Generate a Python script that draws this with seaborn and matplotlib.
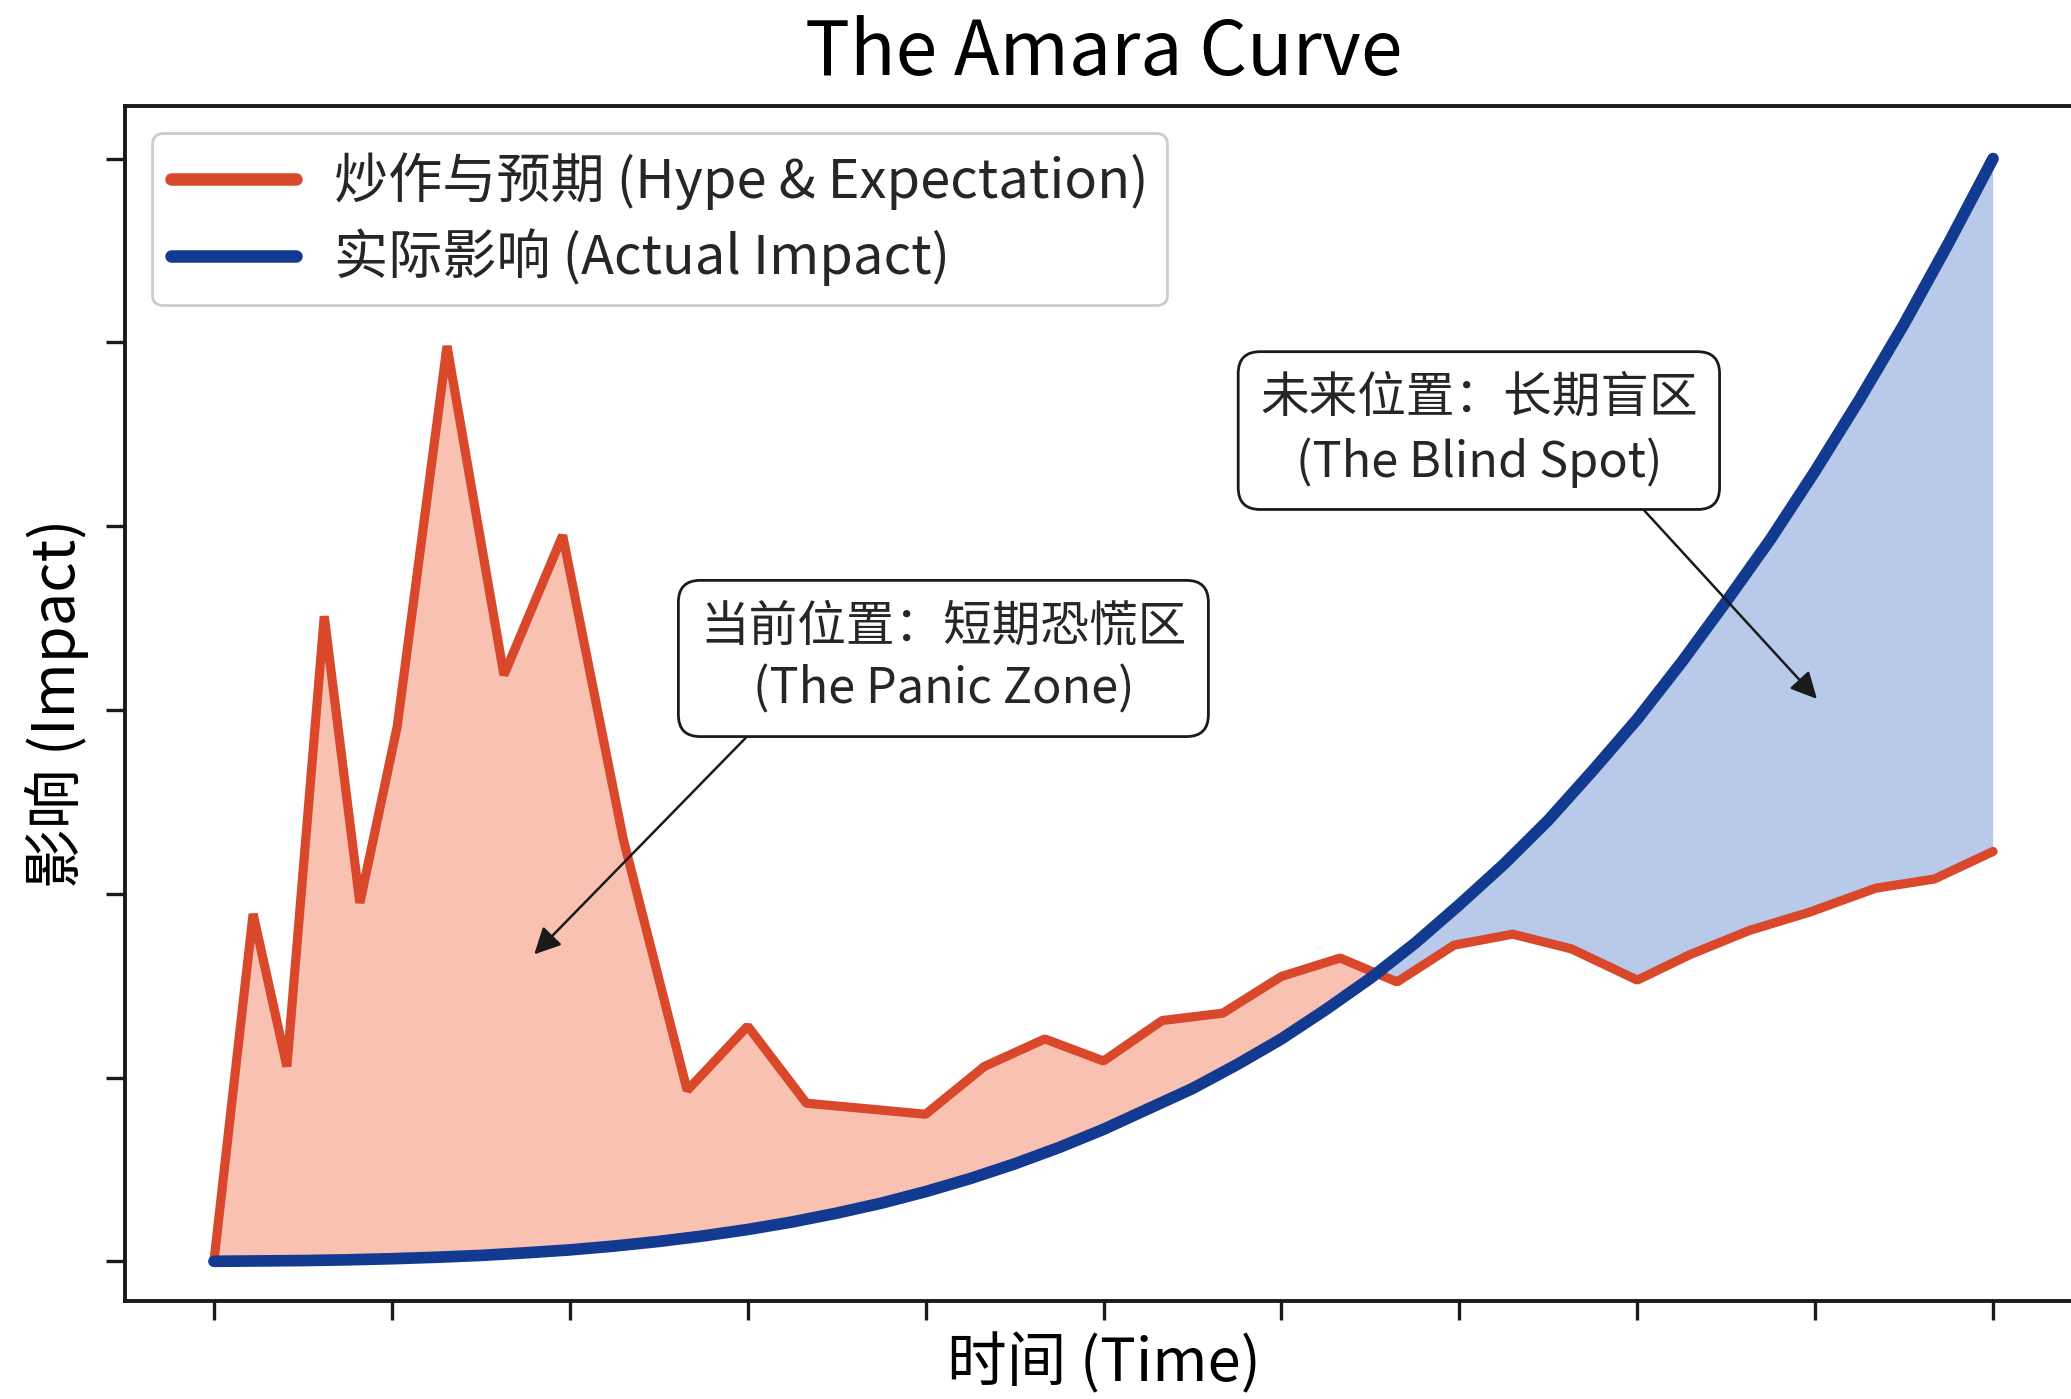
import matplotlib
matplotlib.use("Agg")
import matplotlib.pyplot as plt
import seaborn as sns
import numpy as np
import pandas as pd

# ---------------- data ----------------
# Hype & expectation: vertices of the jagged red line
time_x = [0.0, 0.22, 0.41, 0.62, 0.82, 1.03, 1.31, 1.63, 1.96, 2.30, 2.66,
          3.00, 3.33, 3.67, 4.00, 4.33, 4.67, 5.00, 5.33, 5.67, 6.00, 6.33,
          6.65, 6.97, 7.30, 7.63, 8.00, 8.30, 8.63, 8.97, 9.34, 9.67, 10.0]
hype = [0.00, 1.89, 1.06, 3.51, 1.95, 2.91, 4.98, 3.19, 3.95, 2.30, 0.93,
        1.28, 0.86, 0.83, 0.80, 1.06, 1.21, 1.09, 1.31, 1.35, 1.55, 1.65,
        1.52, 1.72, 1.78, 1.70, 1.53, 1.67, 1.80, 1.90, 2.03, 2.08, 2.23]
# Actual impact read at the same time points (boundary of the shaded areas)
actual = [0.00, 0.00, 0.00, 0.007, 0.012, 0.015, 0.024, 0.038, 0.060, 0.087, 0.127,
          0.173, 0.23, 0.30, 0.38, 0.47, 0.59, 0.72, 0.86, 1.03, 1.21, 1.42,
          1.65, 1.91, 2.21, 2.54, 2.95, 3.32, 3.76, 4.26, 4.83, 5.40, 6.00]
# Actual impact read on a finer time grid (the smooth blue line)
curve_x = [0.0, 0.25, 0.5, 0.75, 1.0, 1.25, 1.5, 1.75, 2.0, 2.25, 2.5, 2.75,
           3.0, 3.25, 3.5, 3.75, 4.0, 4.25, 4.5, 4.75, 5.0, 5.25, 5.5, 5.75,
           6.0, 6.25, 6.5, 6.75, 7.0, 7.25, 7.5, 7.75, 8.0, 8.25, 8.5, 8.75,
           9.0, 9.25, 9.5, 9.75, 10.0]
curve_y = [0.0, 0.002, 0.004, 0.008, 0.014, 0.022, 0.032, 0.046, 0.062, 0.083,
           0.108, 0.138, 0.173, 0.214, 0.262, 0.316, 0.379, 0.450, 0.530, 0.619,
           0.718, 0.829, 0.94, 1.07, 1.21, 1.37, 1.54, 1.73, 1.94, 2.16,
           2.40, 2.67, 2.95, 3.26, 3.59, 3.93, 4.30, 4.69, 5.10, 5.54, 6.00]
x_ticks = list(range(0, 11))
y_ticks = list(range(0, 7))

title = "The Amara Curve"
xlabel = "时间 (Time)"
ylabel = "影响 (Impact)"
hype_label = "炒作与预期 (Hype & Expectation)"
actual_label = "实际影响 (Actual Impact)"
note_panic = "当前位置：短期恐慌区\n(The Panic Zone)"
note_blind = "未来位置：长期盲区\n(The Blind Spot)"

# ---------------- style ----------------
sns.set_theme(style="ticks")
plt.rcParams['font.family'] = ['Noto Sans CJK SC', 'DejaVu Sans']
plt.rcParams['axes.unicode_minus'] = False

RED = '#D9482B'
RED_FILL = '#F9C1B2'
BLUE = '#123A91'
BLUE_FILL = '#B8C9E9'
INK = '#1a1a1a'

df = pd.DataFrame({'t': time_x, 'hype': hype, 'actual': actual})
df_curve = pd.DataFrame({'t': curve_x, 'actual': curve_y})

W, H, DPI = 2071, 1399, 200
fig = plt.figure(figsize=(W / DPI, H / DPI), dpi=DPI)
ax = fig.add_axes([125 / W, (H - 1301) / H, (2082 - 125) / W, (1301 - 106) / H])

h = np.array(hype)
a = np.array(actual)
ax.fill_between(df['t'], df['actual'], df['hype'], where=h >= a, interpolate=True,
                color=RED_FILL, lw=0, zorder=1)
ax.fill_between(df['t'], df['hype'], df['actual'], where=a >= h, interpolate=True,
                color=BLUE_FILL, lw=0, zorder=1)

sns.lineplot(data=df, x='t', y='hype', ax=ax, color=RED, lw=3.3,
             label=hype_label, zorder=3, solid_joinstyle='bevel')
sns.lineplot(data=df_curve, x='t', y='actual', ax=ax, color=BLUE, lw=4.2,
             label=actual_label, zorder=4)

ax.set_xlim(-0.5, 10.5)
ax.set_ylim(-0.216, 6.286)
ax.set_xticks(x_ticks)
ax.set_yticks(y_ticks)
ax.tick_params(labelbottom=False, labelleft=False, length=7, width=1.2,
               color=INK, direction='out')
for s in ax.spines.values():
    s.set_linewidth(1.4)
    s.set_color(INK)

ax.set_title(title, fontsize=27, pad=11, color='black')
ax.set_xlabel(xlabel, fontsize=21.5, labelpad=5, color='black')
ax.set_ylabel(ylabel, fontsize=21.5, labelpad=6, color='black')

leg = ax.legend(loc='upper left', fontsize=19.5, frameon=True, fancybox=True,
                framealpha=1.0, edgecolor='#cccccc', handlelength=2.3,
                handletextpad=0.7, borderpad=0.35, labelspacing=0.35)
for line in leg.get_lines():
    line.set_linewidth(4.5)

box = dict(boxstyle='round,pad=0.45', fc='white', ec=INK, lw=1.0)
ax.annotate(note_panic, xy=(1.80, 1.67), xytext=(4.10, 3.28),
            ha='center', va='center', fontsize=17.5, bbox=box, zorder=6,
            linespacing=1.35,
            arrowprops=dict(arrowstyle='-|>', color=INK, lw=0.9,
                            mutation_scale=20, relpos=(0.14, 0.0),
                            shrinkA=0, shrinkB=0))
ax.annotate(note_blind, xy=(9.01, 3.06), xytext=(7.11, 4.52),
            ha='center', va='center', fontsize=17.5, bbox=box, zorder=6,
            linespacing=1.35,
            arrowprops=dict(arrowstyle='-|>', color=INK, lw=0.9,
                            mutation_scale=20, relpos=(0.83, 0.0),
                            shrinkA=0, shrinkB=0))

fig.savefig('out.png', dpi=DPI, facecolor='white')
